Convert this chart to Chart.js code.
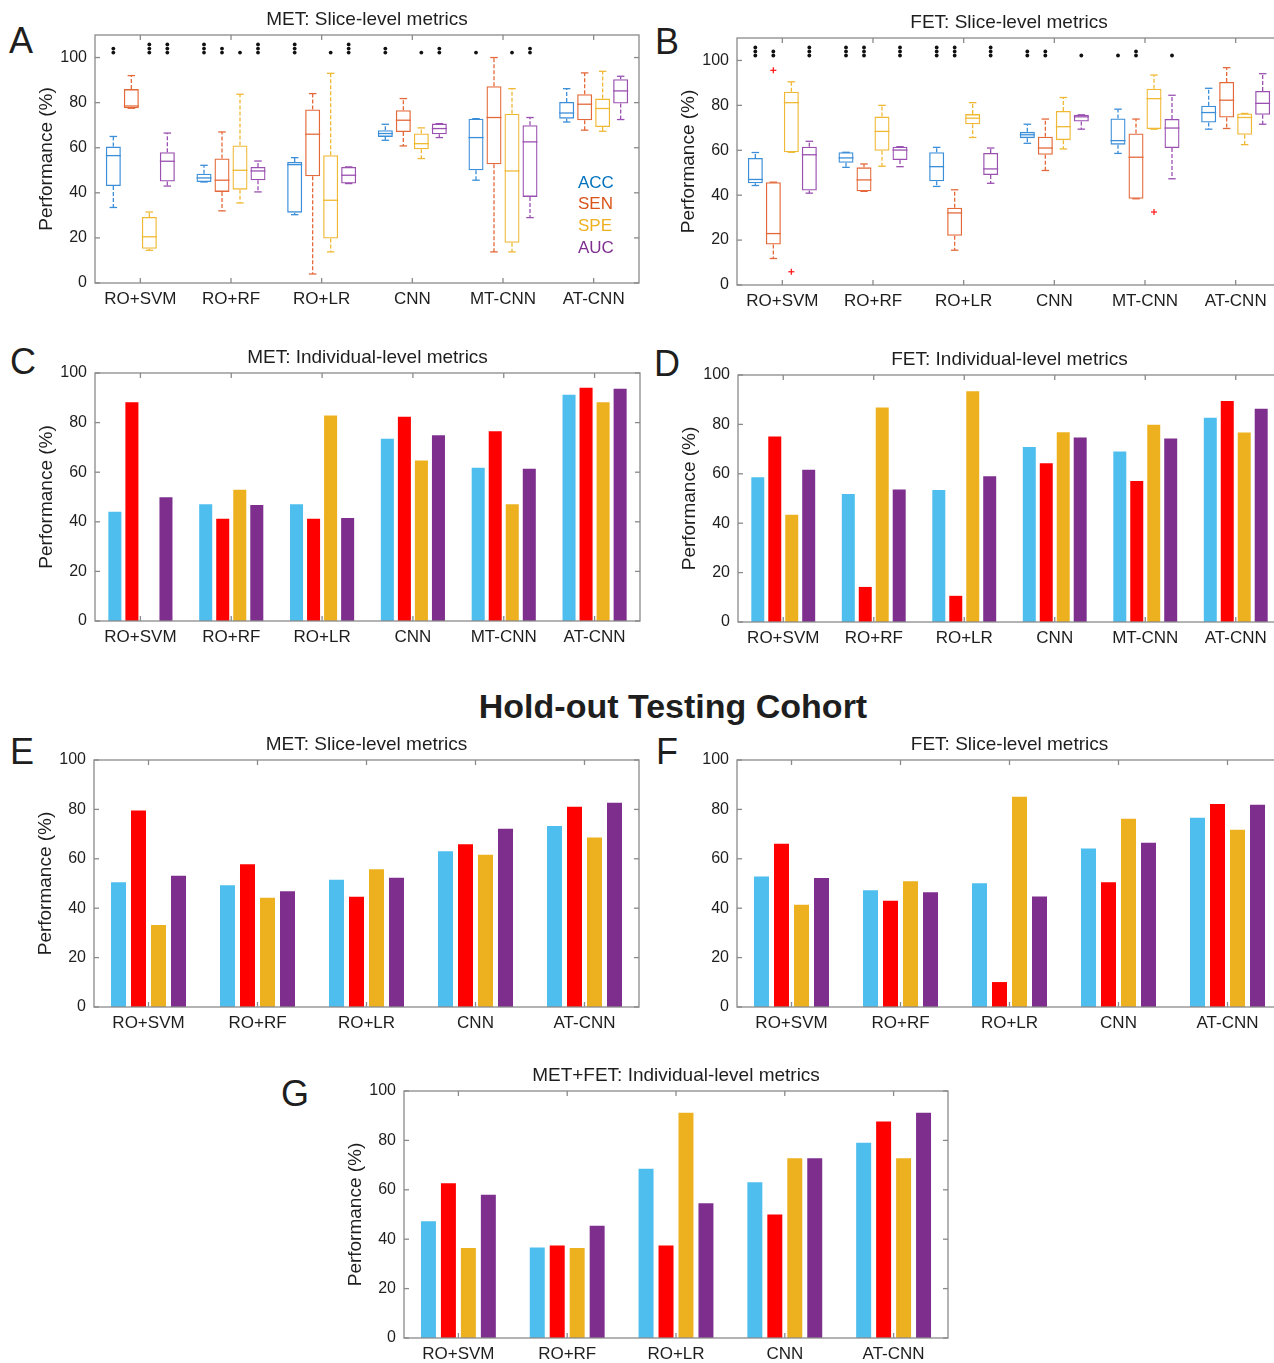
<!DOCTYPE html>
<html>
<head>
<meta charset="utf-8">
<script src="https://cdn.jsdelivr.net/npm/chart.js@4.4.1/dist/chart.umd.min.js"></script>
<style>
  html, body { margin: 0; padding: 0; background: #fff; overflow: hidden; }
  body { width: 1274px; height: 1363px; position: relative; font-family: "Liberation Sans", Arial, sans-serif; color: #1e1e1e; }
  canvas { position: absolute; }
  .letter { position: absolute; font-size: 36px; line-height: 36px; }
  .heading { position: absolute; left: 373px; top: 689px; width: 600px; text-align: center; font-size: 34px; line-height: 34px; font-weight: bold; }
</style>
</head>
<body>
<div class="letter" style="left:9px;top:23px">A</div>
<div class="letter" style="left:655px;top:24px">B</div>
<div class="letter" style="left:10px;top:344px">C</div>
<div class="letter" style="left:654px;top:346px">D</div>
<div class="letter" style="left:10px;top:734px">E</div>
<div class="letter" style="left:656px;top:734px">F</div>
<div class="letter" style="left:281px;top:1076px">G</div>
<div class="heading">Hold-out Testing Cohort</div>

<canvas id="chartA"></canvas>
<canvas id="chartB"></canvas>
<canvas id="chartC"></canvas>
<canvas id="chartD"></canvas>
<canvas id="chartE"></canvas>
<canvas id="chartF"></canvas>
<canvas id="chartG"></canvas>

<script>
const metrics = ["ACC", "SEN", "SPE", "AUC"];
const methodsSix = ["RO+SVM", "RO+RF", "RO+LR", "CNN", "MT-CNN", "AT-CNN"];
const methodsFive = ["RO+SVM", "RO+RF", "RO+LR", "CNN", "AT-CNN"];

// box stats per method: [lower whisker, q1, median, q3, upper whisker]
const metSliceAcc = [[33.5, 43, 56.5, 60.5, 65], [44.8, 44.8, 46.6, 48.5, 52.2], [30.3, 31.2, 52.5, 53.7, 55.6], [63.3, 64.8, 66.3, 67.8, 70.4], [45.6, 50, 64.5, 72.9, 72.9], [71.4, 72.9, 75.4, 80.3, 86.2]];
const metSliceSen = [[77.5, 77.5, 78.5, 86, 92], [32, 40.4, 45.6, 55.2, 67], [4, 47.3, 66, 77, 84], [60.8, 67, 72.2, 76.6, 81.8], [13.8, 52.7, 73.4, 87.3, 100], [67.8, 72.2, 79.3, 83.7, 93.2]];
const metSliceSpe = [[14.5, 15.2, 20.5, 29.3, 31.5], [35.5, 41.4, 50, 61, 83.7], [13.8, 19.7, 36.7, 56.7, 93], [55.2, 59.3, 61.8, 66.3, 68.8], [13.8, 17.8, 49.7, 75.1, 86.2], [67.3, 69.2, 77.4, 81.8, 93.9]];
const metSliceAuc = [[43, 45, 54, 58, 66.5], [40.4, 45.6, 49.7, 51.5, 54.1], [44.1, 44.1, 47.8, 51.5, 51.5], [64.5, 66, 68.5, 70.7, 70.7], [29, 38.2, 62.6, 70, 73.4], [72.5, 79.6, 85.2, 90.4, 91.7]];
// number of significance stars per method, in metric order
const metSliceStars = [[2, 0, 3, 3], [3, 2, 1, 3], [3, 0, 1, 3], [2, 0, 1, 2], [1, 0, 1, 2], [0, 0, 0, 0]];

const fetSliceAcc = [[44.3, 45.3, 47, 56.6, 59], [52.4, 54.4, 56.6, 59.1, 59.1], [43.9, 46.2, 52.7, 59.1, 61.3], [63.1, 65.4, 66.9, 68.2, 71.6], [58.6, 62.5, 64.3, 74.2, 78.3], [69.4, 72.4, 76.8, 79.8, 87.6]];
const fetSliceSen = [[11.8, 18, 22.9, 45.8, 45.8], [41.7, 41.7, 46.8, 52.4, 53.9], [15.5, 21.9, 32.1, 34.4, 42.4], [51, 58, 61, 66, 73.9], [38.4, 38.4, 56.9, 67.5, 73.9], [69.7, 74.6, 82.3, 90.4, 96.8]];
const fetSliceSpe = [[59.1, 59.1, 81.2, 86.1, 90.5], [52.9, 59.8, 68.4, 75, 80], [65.7, 71.6, 74.3, 76.1, 81.2], [60.6, 64.5, 70.5, 77.5, 83.5], [69.4, 69.4, 83, 87.4, 93.5], [62.5, 66.9, 74.6, 76.4, 76.4]];
const fetSliceAuc = [[40.9, 42.1, 58, 61.6, 64], [52.7, 55.7, 60.1, 61.6, 61.6], [45.3, 49, 51.7, 58.8, 61], [69.4, 72.8, 74.9, 75.8, 75.8], [47.3, 61, 69.9, 73.9, 84.5], [71.6, 75.8, 80.9, 86.4, 94.1]];
const fetSliceStars = [[3, 2, 0, 3], [3, 3, 0, 3], [3, 3, 0, 3], [2, 2, 0, 1], [1, 2, 0, 1], [0, 0, 0, 0]];
// outliers: [method index, metric index, value]
const fetSliceOutliers = [[0, 1, 95.6], [0, 2, 5.9], [4, 2, 32.5]];

// bar values, one row per metric (ACC, SEN, SPE, AUC)
const metIndividual = [
  [44.1, 47.1, 47.1, 73.5, 61.8, 91.2],
  [88.2, 41.2, 41.2, 82.4, 76.5, 94.1],
  [0, 52.9, 82.9, 64.7, 47.1, 88.2],
  [49.9, 46.8, 41.5, 74.9, 61.4, 93.6],
];
const fetIndividual = [
  [58.6, 51.8, 53.4, 70.8, 69, 82.7],
  [75.1, 14.2, 10.6, 64.3, 57.1, 89.5],
  [43.4, 86.8, 93.4, 76.8, 79.9, 76.7],
  [61.6, 53.6, 59, 74.7, 74.3, 86.3],
];
const metSliceTest = [
  [50.5, 49.3, 51.5, 63.1, 73.3],
  [79.6, 57.8, 44.6, 65.9, 81.1],
  [33.2, 44.2, 55.8, 61.6, 68.6],
  [53.1, 46.9, 52.3, 72.2, 82.7],
];
const fetSliceTest = [
  [52.8, 47.3, 50.1, 64.2, 76.6],
  [66.1, 43, 10.1, 50.5, 82.2],
  [41.4, 50.9, 85.1, 76.2, 71.8],
  [52.2, 46.5, 44.7, 66.5, 81.9],
];
const combinedIndividual = [
  [47.3, 36.6, 68.5, 63.1, 79],
  [62.7, 37.4, 37.4, 50, 87.7],
  [36.4, 36.4, 91.2, 72.8, 72.8],
  [58, 45.4, 54.6, 72.8, 91.2],
];

const yTicksStep = 20;
const starBase = 102.2;
const starStep = 1.8;

const boxColors = ["#3b8ed8", "#e4693a", "#f0b935", "#9a50b0"];
const legendColors = ["#0072BD", "#D95319", "#EDB120", "#7E2F8E"];
const barColors = ["#4DBEEE", "#FF0000", "#EDB120", "#7E2F8E"];
const fontFamily = '"Liberation Sans", Arial, Helvetica, sans-serif';
const textColor = "#1e1e1e";
const frameColor = "#8a8a8a";

// plot-area rectangles in page pixels
const plotRects = {
  chartA: { left: 95, top: 35, right: 639, bottom: 283 },
  chartB: { left: 737, top: 38, right: 1281, bottom: 285 },
  chartC: { left: 95, top: 373, right: 640, bottom: 621 },
  chartD: { left: 738, top: 375, right: 1281, bottom: 622 },
  chartE: { left: 94, top: 760, right: 639, bottom: 1007 },
  chartF: { left: 737, top: 760, right: 1282, bottom: 1007 },
  chartG: { left: 404, top: 1091, right: 948, bottom: 1338 },
};
const yAxisWidth = 95;
const titleHeight = 35;
const xAxisHeight = 30;

function strokeLine(ctx, x1, y1, x2, y2) {
  ctx.beginPath();
  ctx.moveTo(x1, y1);
  ctx.lineTo(x2, y2);
  ctx.stroke();
}

const axesFrame = {
  id: "axesFrame",
  afterDatasetsDraw(chart) {
    const { ctx, chartArea: a, scales: { x, y } } = chart;
    ctx.save();
    ctx.strokeStyle = frameColor;
    ctx.lineWidth = 1.3;
    ctx.strokeRect(a.left, a.top, a.right - a.left, a.bottom - a.top);
    y.ticks.forEach((t, i) => {
      const py = y.getPixelForTick(i);
      strokeLine(ctx, a.left, py, a.left + 5, py);
      strokeLine(ctx, a.right, py, a.right - 5, py);
    });
    x.ticks.forEach((t, i) => {
      const px = x.getPixelForTick(i);
      strokeLine(ctx, px, a.bottom, px, a.bottom - 5);
      strokeLine(ctx, px, a.top, px, a.top + 5);
    });
    ctx.restore();
  },
};

const boxPlot = {
  id: "boxPlot",
  afterDatasetsDraw(chart, args, opts) {
    const datasets = chart.data.datasets;
    if (!datasets[0] || !datasets[0].stats) return;
    const { ctx, chartArea: a, scales: { y } } = chart;
    const py = (v) => y.getPixelForValue(v);
    ctx.save();
    ctx.lineWidth = 1.3;
    datasets.forEach((ds, k) => {
      const meta = chart.getDatasetMeta(k);
      ctx.strokeStyle = boxColors[k];
      ds.stats.forEach(([lo, q1, med, q3, hi], j) => {
        const bar = meta.data[j];
        const cx = bar.x;
        const half = bar.width / 2;
        strokeLine(ctx, cx - half, py(med), cx + half, py(med));
        ctx.setLineDash([4, 2]);
        if (hi > q3) strokeLine(ctx, cx, py(q3), cx, py(hi));
        if (lo < q1) strokeLine(ctx, cx, py(q1), cx, py(lo));
        ctx.setLineDash([]);
        strokeLine(ctx, cx - half / 2, py(hi), cx + half / 2, py(hi));
        strokeLine(ctx, cx - half / 2, py(lo), cx + half / 2, py(lo));
      });
    });

    ctx.strokeStyle = "#ff2020";
    ctx.lineWidth = 1.3;
    (opts.outliers || []).forEach(([j, k, v]) => {
      const bar = chart.getDatasetMeta(k).data[j];
      strokeLine(ctx, bar.x - 3, py(v), bar.x + 3, py(v));
      strokeLine(ctx, bar.x, py(v) - 3, bar.x, py(v) + 3);
    });

    ctx.fillStyle = "#111";
    (opts.stars || []).forEach((counts, j) => {
      counts.forEach((n, k) => {
        const bar = chart.getDatasetMeta(k).data[j];
        for (let s = 0; s < n; s++) {
          ctx.beginPath();
          ctx.arc(bar.x, py(starBase + s * starStep), 1.9, 0, Math.PI * 2);
          ctx.fill();
        }
      });
    });

    if (opts.legend) {
      ctx.font = "17px " + fontFamily;
      ctx.textAlign = "left";
      ctx.textBaseline = "middle";
      datasets.forEach((ds, k) => {
        ctx.fillStyle = legendColors[k];
        ctx.fillText(ds.label, a.right - 61, a.top + 148 + k * 21.8);
      });
    }
    ctx.restore();
  },
};

Chart.register(axesFrame, boxPlot);

function placeCanvas(id) {
  const r = plotRects[id];
  const c = document.getElementById(id);
  const w = r.right - r.left + yAxisWidth + 2;
  const h = r.bottom - r.top + titleHeight + xAxisHeight;
  c.width = w;
  c.height = h;
  c.style.width = w + "px";
  c.style.height = h + "px";
  c.style.left = r.left - yAxisWidth + "px";
  c.style.top = r.top - titleHeight + "px";
  return c;
}

function baseOptions(titleText, yMax, showYLabel, pluginOpts) {
  return {
    responsive: false,
    animation: false,
    events: [],
    layout: { padding: { left: 0, right: 2, top: 0, bottom: 0 } },
    plugins: {
      legend: { display: false },
      tooltip: { enabled: false },
      title: {
        display: true,
        text: titleText,
        fullSize: false,
        color: textColor,
        font: { family: fontFamily, size: 19, weight: "normal", lineHeight: "22px" },
        padding: { top: 9, bottom: 4 },
      },
      boxPlot: pluginOpts || {},
    },
    scales: {
      x: {
        grid: { display: false, drawTicks: false },
        border: { display: false },
        ticks: {
          color: textColor,
          padding: 6,
          maxRotation: 0,
          autoSkip: false,
          font: { family: fontFamily, size: 17 },
        },
        afterFit(scale) {
          scale.height = xAxisHeight;
        },
      },
      y: {
        min: 0,
        max: yMax,
        grid: { display: false, drawTicks: false },
        border: { display: false },
        ticks: {
          stepSize: yTicksStep,
          includeBounds: false,
          color: textColor,
          padding: 8,
          font: { family: fontFamily, size: 16 },
        },
        title: {
          display: showYLabel,
          text: "Performance (%)",
          color: textColor,
          font: { family: fontFamily, size: 19, lineHeight: "22px" },
          padding: { top: 36, bottom: 0 },
        },
        afterFit(scale) {
          scale.width = yAxisWidth;
        },
      },
    },
  };
}

function boxChart(id, title, statsByMetric, stars, outliers, legend) {
  new Chart(placeCanvas(id), {
    type: "bar",
    data: {
      labels: methodsSix,
      datasets: metrics.map((m, k) => ({
        label: m,
        data: statsByMetric[k].map((s) => [s[1], s[3]]),
        stats: statsByMetric[k],
        backgroundColor: "rgba(0,0,0,0)",
        borderColor: boxColors[k],
        borderWidth: 1.3,
        borderSkipped: false,
        categoryPercentage: 0.794,
        barPercentage: 0.833,
      })),
    },
    options: baseOptions(title, 110, true, { stars, outliers, legend }),
  });
}

function barChart(id, title, labels, values, showYLabel, catPct, barPct) {
  new Chart(placeCanvas(id), {
    type: "bar",
    data: {
      labels,
      datasets: metrics.map((m, k) => ({
        label: m,
        data: values[k],
        backgroundColor: barColors[k],
        borderWidth: 0,
        categoryPercentage: catPct,
        barPercentage: barPct,
      })),
    },
    options: baseOptions(title, 100, showYLabel),
  });
}

boxChart("chartA", "MET: Slice-level metrics", [metSliceAcc, metSliceSen, metSliceSpe, metSliceAuc], metSliceStars, [], true);
boxChart("chartB", "FET: Slice-level metrics", [fetSliceAcc, fetSliceSen, fetSliceSpe, fetSliceAuc], fetSliceStars, fetSliceOutliers, false);
barChart("chartC", "MET: Individual-level metrics", methodsSix, metIndividual, true, 0.75, 0.765);
barChart("chartD", "FET: Individual-level metrics", methodsSix, fetIndividual, true, 0.75, 0.765);
barChart("chartE", "MET: Slice-level metrics", methodsFive, metSliceTest, true, 0.734, 0.75);
barChart("chartF", "FET: Slice-level metrics", methodsFive, fetSliceTest, false, 0.734, 0.75);
barChart("chartG", "MET+FET: Individual-level metrics", methodsFive, combinedIndividual, true, 0.734, 0.75);
</script>
</body>
</html>
